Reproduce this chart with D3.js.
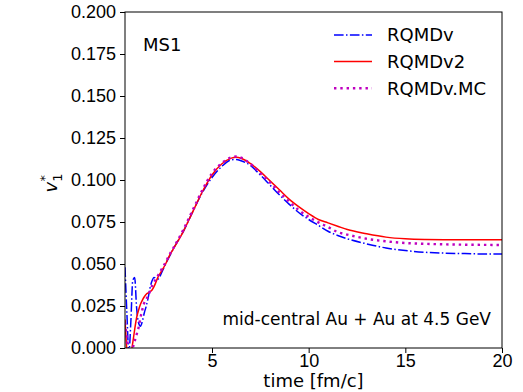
<!DOCTYPE html>
<html>
<head>
<meta charset="utf-8">
<script src="https://cdn.jsdelivr.net/npm/d3@7"></script>
<style>
  body { margin: 0; background: #fff; }
  svg { display: block; font-family: "DejaVu Sans", sans-serif; }
  .axis path, .axis line { stroke: #000; stroke-width: 1; }
  .axis text { font-size: 18px; fill: #000; }
</style>
</head>
<body>
<div id="chart"></div>
<script>
// time axis [fm/c]
var times = [0.5, 0.6, 0.7, 0.8, 0.9, 1.0, 1.1, 1.2, 1.3, 1.4, 1.5, 1.6, 1.7, 1.8, 1.9, 2.0,
  2.2, 2.4, 2.6, 2.8, 3.0, 3.5, 4.0, 4.5, 5.0, 5.5, 6.0, 6.25, 6.5, 7.0, 7.5, 8.0, 8.5,
  9.0, 9.5, 10, 10.5, 11, 11.5, 12, 13, 14, 15, 16, 17, 18, 19, 20];

// RQMDv (dash-dot, blue)
var rqmdv = [0.048, 0.02, -0.003, 0.015, 0.04, 0.042, 0.024, 0.015, 0.013, 0.016, 0.021, 0.025, 0.03, 0.036, 0.04, 0.042,
  0.041, 0.045, 0.050, 0.0545, 0.059, 0.069, 0.081, 0.0925, 0.1015, 0.108, 0.112, 0.1122, 0.1115, 0.1085, 0.103, 0.097, 0.091,
  0.0855, 0.0805, 0.0765, 0.073, 0.0695, 0.067, 0.065, 0.062, 0.0595, 0.058, 0.057, 0.0565, 0.0562, 0.056, 0.056];

// RQMDv2 (solid, red)
var rqmdv2 = [0.017, -0.002, -0.01, -0.004, 0.003, 0.011, 0.018, 0.0225, 0.026, 0.0285, 0.0305, 0.032, 0.0328, 0.0335, 0.0345, 0.0365,
  0.042, 0.046, 0.050, 0.055, 0.059, 0.069, 0.081, 0.093, 0.103, 0.1095, 0.113, 0.1135, 0.113, 0.1097, 0.105, 0.0995, 0.094,
  0.0885, 0.084, 0.080, 0.0765, 0.0745, 0.0725, 0.0705, 0.068, 0.066, 0.065, 0.0646, 0.0645, 0.0645, 0.0645, 0.0645];

// RQMDv.MC (dotted, magenta)
var rqmdvMC = [0.015, 0.006, -0.002, -0.003, 0.0, 0.004, 0.008, 0.012, 0.018, 0.023, 0.027, 0.029, 0.031, 0.034, 0.037, 0.039,
  0.043, 0.047, 0.051, 0.0555, 0.0595, 0.070, 0.082, 0.094, 0.104, 0.110, 0.1135, 0.114, 0.1133, 0.1095, 0.104, 0.0985, 0.0925,
  0.087, 0.082, 0.078, 0.0748, 0.072, 0.069, 0.0675, 0.065, 0.0635, 0.0625, 0.062, 0.0617, 0.0615, 0.0614, 0.0613];

var xTicks = [5, 10, 15, 20];
var yTicks = [0, 0.025, 0.05, 0.075, 0.1, 0.125, 0.15, 0.175, 0.2];

var series = [
  { name: "RQMDv", values: rqmdv, color: "#0000ff", width: 1.5, dash: "9.6,2.4,1.5,2.4" },
  { name: "RQMDv2", values: rqmdv2, color: "#ff0000", width: 1.5, dash: null },
  { name: "RQMDv.MC", values: rqmdvMC, color: "#bf00bf", width: 2.4, dash: "2.4,3.9" }
];

var W = 523, H = 392;
var margin = { top: 12, right: 21, bottom: 44, left: 125 };
var width = W - margin.left - margin.right;
var height = H - margin.top - margin.bottom;

var svg = d3.select("#chart").append("svg")
  .attr("width", W)
  .attr("height", H);

var x = d3.scaleLinear().domain([0.5, 20]).range([0, width]);
var y = d3.scaleLinear().domain([0, 0.2]).range([height, 0]);

var g = svg.append("g")
  .attr("transform", "translate(" + margin.left + "," + margin.top + ")");

g.append("clipPath").attr("id", "clip")
  .append("rect").attr("width", width).attr("height", height);

// curves
var line = d3.line()
  .x(function(d) { return x(d.t); })
  .y(function(d) { return y(d.v); })
  .curve(d3.curveMonotoneX);

series.forEach(function(s) {
  var pts = times.map(function(t, i) { return { t: t, v: s.values[i] }; });
  g.append("path")
    .attr("clip-path", "url(#clip)")
    .attr("fill", "none")
    .attr("stroke", s.color)
    .attr("stroke-width", s.width)
    .attr("stroke-dasharray", s.dash)
    .attr("d", line(pts));
});

// frame
g.append("rect")
  .attr("width", width).attr("height", height)
  .attr("fill", "none").attr("stroke", "#000").attr("stroke-width", 1);

// axes
g.append("g")
  .attr("class", "axis")
  .attr("transform", "translate(0," + height + ")")
  .call(d3.axisBottom(x).tickValues(xTicks).tickSize(5).tickPadding(1).tickFormat(d3.format("d")))
  .call(function(a) { a.select(".domain").remove(); });

g.append("g")
  .attr("class", "axis")
  .call(d3.axisLeft(y).tickValues(yTicks).tickSize(5).tickPadding(4).tickFormat(d3.format(".3f")))
  .call(function(a) { a.select(".domain").remove(); });

// axis labels
svg.append("text")
  .attr("x", margin.left + width / 2)
  .attr("y", 387)
  .attr("text-anchor", "middle")
  .style("font-size", "18px")
  .text("time [fm/c]");

var yl = svg.append("text")
  .attr("transform", "translate(57,183) rotate(-90)")
  .attr("text-anchor", "middle")
  .style("font-size", "18px");
yl.append("tspan").style("font-style", "italic").text("v");
yl.append("tspan").attr("dy", 5).style("font-size", "13px").text("1");
yl.append("tspan").attr("dx", -8).attr("dy", -13).style("font-size", "13px").text("*");

// annotations
svg.append("text")
  .attr("x", 143).attr("y", 51)
  .style("font-size", "18px")
  .text("MS1");

svg.append("text")
  .attr("x", 491).attr("y", 325)
  .attr("text-anchor", "end")
  .style("font-size", "17px")
  .text("mid-central Au + Au at 4.5 GeV");

// legend
var legend = svg.append("g");
series.forEach(function(s, i) {
  var ly = 35 + i * 26.6;
  legend.append("line")
    .attr("x1", 334).attr("x2", 372)
    .attr("y1", ly).attr("y2", ly)
    .attr("stroke", s.color)
    .attr("stroke-width", s.width)
    .attr("stroke-dasharray", s.dash);
  legend.append("text")
    .attr("x", 387).attr("y", ly)
    .attr("dy", "0.36em")
    .style("font-size", "18px")
    .text(s.name);
});
</script>
</body>
</html>
